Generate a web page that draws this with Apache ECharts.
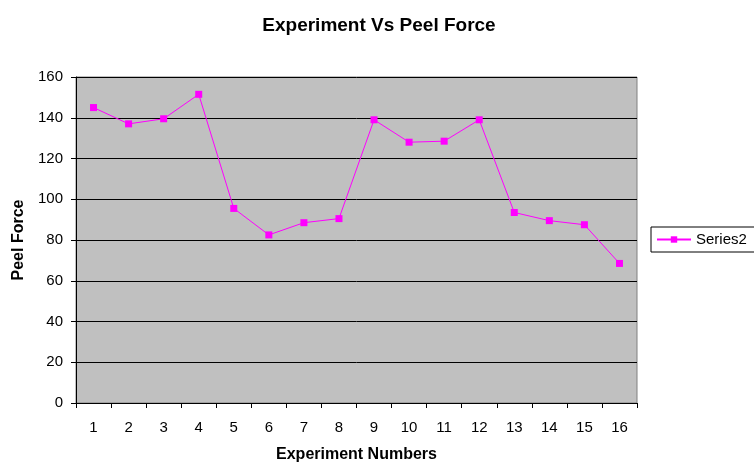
<!DOCTYPE html>
<html>
<head>
<meta charset="utf-8">
<script src="https://cdn.jsdelivr.net/npm/echarts@6/dist/echarts.min.js"></script>
<style>
html,body{margin:0;padding:0;background:#fff;}
#chart{width:754px;height:467px;}
</style>
</head>
<body>
<div id="chart"></div>
<script>
// Experiment numbers and measured peel force
const experiments = ['1','2','3','4','5','6','7','8','9','10','11','12','13','14','15','16'];
const peelForce = [145, 137, 139.5, 151.5, 95.5, 82.5, 88.5, 90.5, 139, 128, 128.5, 139, 93.5, 89.5, 87.5, 68.5];
const yTicks = [0, 20, 40, 60, 80, 100, 120, 140, 160];

const font = '"Liberation Sans", Arial, sans-serif';
const chart = echarts.init(document.getElementById('chart'), null, {renderer: 'canvas'});

chart.setOption({
  animation: false,
  backgroundColor: '#ffffff',
  title: {
    text: 'Experiment Vs Peel Force',
    left: 374, top: 11, textAlign: 'center',
    textStyle: {fontFamily: font, fontSize: 19, fontWeight: 'bold', color: '#000'}
  },
  legend: {
    data: ['Series2'],
    left: 651, top: 227,
    orient: 'vertical',
    backgroundColor: '#fff',
    borderColor: '#000', borderWidth: 1,
    padding: [5, 20, 5, 5],
    itemWidth: 34, itemHeight: 8, itemGap: 4,
    textStyle: {fontFamily: font, fontSize: 15, color: '#000', padding: [0, 0, 0, 0]}
  },
  grid: {
    left: 76, right: 117, top: 77, bottom: 64,
    outerBoundsMode: 'none',
    containLabel: false,
    show: true, backgroundColor: '#c0c0c0', borderColor: '#808080', borderWidth: 1
  },
  xAxis: {
    type: 'category',
    data: experiments,
    boundaryGap: true,
    name: 'Experiment Numbers',
    nameLocation: 'middle', nameGap: 44,
    nameTextStyle: {fontFamily: font, fontSize: 16, fontWeight: 'bold', color: '#000'},
    axisLine: {lineStyle: {color: '#000', width: 1}},
    axisTick: {show: true, length: 5, inside: false, lineStyle: {color: '#000'}},
    axisLabel: {fontFamily: font, fontSize: 15, color: '#000', margin: 17}
  },
  yAxis: {
    type: 'value',
    min: yTicks[0], max: yTicks[yTicks.length - 1], interval: 20,
    name: 'Peel Force',
    nameLocation: 'middle', nameGap: 48,
    nameTextStyle: {fontFamily: font, fontSize: 16, fontWeight: 'bold', color: '#000'},
    axisLine: {show: true, lineStyle: {color: '#000', width: 1}},
    axisTick: {show: true, length: 5, lineStyle: {color: '#000'}},
    axisLabel: {fontFamily: font, fontSize: 15, color: '#000', margin: 13},
    splitLine: {show: true, lineStyle: {color: '#000', width: 1}}
  },
  series: [{
    name: 'Series2',
    type: 'line',
    data: peelForce,
    symbol: 'rect', symbolSize: 7,
    itemStyle: {color: '#ff00ff'},
    lineStyle: {color: '#ff00ff', width: 1}
  }]
});
</script>
</body>
</html>
